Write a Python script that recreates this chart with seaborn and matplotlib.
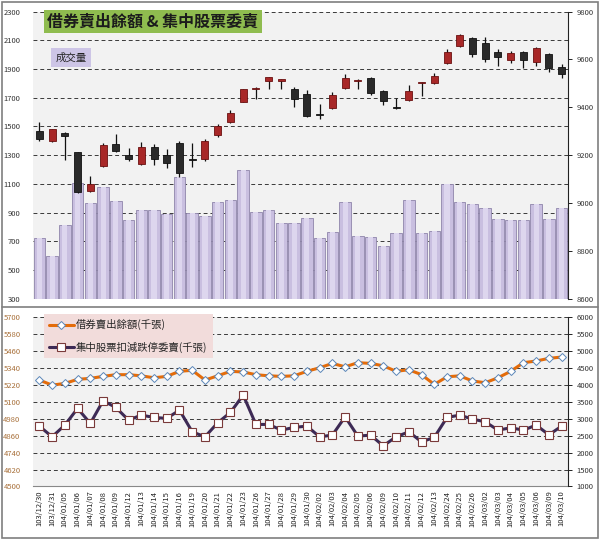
import numpy as np
import pandas as pd
import seaborn as sns
import matplotlib
matplotlib.use('Agg')
import matplotlib.pyplot as plt
from matplotlib.patches import Rectangle
from matplotlib.lines import Line2D

# trading days (ROC calendar)
dates = ['103/12/30', '103/12/31', '104/01/05', '104/01/06', '104/01/07', '104/01/08',
         '104/01/09', '104/01/12', '104/01/13', '104/01/14', '104/01/15', '104/01/16',
         '104/01/19', '104/01/20', '104/01/21', '104/01/22', '104/01/23', '104/01/26',
         '104/01/27', '104/01/28', '104/01/29', '104/01/30', '104/02/02', '104/02/03',
         '104/02/04', '104/02/05', '104/02/06', '104/02/09', '104/02/10', '104/02/11',
         '104/02/12', '104/02/13', '104/02/24', '104/02/25', '104/02/26', '104/03/02',
         '104/03/03', '104/03/04', '104/03/05', '104/03/06', '104/03/09', '104/03/10']

# 成交量 (left axis, top chart)
volume = [720, 600, 810, 1105, 970, 1080, 980, 845, 920, 920, 890, 1150, 900, 875,
          975, 990, 1200, 905, 915, 825, 830, 865, 720, 765, 975, 740, 730, 665,
          760, 985, 760, 770, 1100, 975, 960, 930, 855, 845, 845, 960, 855, 930]

# index candles (right axis, top chart)
open_ = [9301, 9259, 9293, 9212, 9049, 9155, 9248, 9201, 9163, 9236, 9199, 9250, 9184, 9184,
         9283, 9338, 9424, 9478, 9511, 9509, 9478, 9456, 9371, 9396, 9482, 9512, 9521, 9467,
         9402, 9431, 9501, 9501, 9584, 9658, 9689, 9668, 9630, 9598, 9630, 9591, 9623, 9567]
high = [9340, 9311, 9297, 9214, 9113, 9250, 9289, 9231, 9256, 9246, 9224, 9259, 9250, 9266,
        9329, 9389, 9478, 9483, 9528, 9520, 9484, 9473, 9414, 9466, 9538, 9517, 9526, 9473,
        9438, 9492, 9506, 9545, 9643, 9706, 9693, 9695, 9645, 9637, 9636, 9651, 9626, 9581]
low = [9261, 9254, 9180, 9043, 9046, 9152, 9213, 9177, 9159, 9159, 9148, 9108, 9152, 9177,
       9275, 9333, 9421, 9436, 9475, 9475, 9403, 9361, 9351, 9392, 9477, 9475, 9450, 9410,
       9392, 9428, 9448, 9498, 9580, 9654, 9612, 9590, 9574, 9584, 9563, 9574, 9549, 9521]
close = [9268, 9308, 9281, 9047, 9080, 9243, 9218, 9183, 9236, 9183, 9168, 9124, 9179, 9259,
         9323, 9375, 9475, 9481, 9526, 9517, 9434, 9365, 9368, 9452, 9521, 9515, 9459, 9427,
         9397, 9469, 9504, 9531, 9633, 9703, 9622, 9602, 9609, 9626, 9598, 9648, 9563, 9539]

# 借券賣出餘額 (left axis, bottom chart)
short_bal = [5255, 5219, 5231, 5260, 5267, 5281, 5293, 5293, 5285, 5271, 5281, 5317, 5324, 5255,
             5285, 5317, 5312, 5293, 5285, 5281, 5285, 5317, 5342, 5373, 5349, 5378, 5373, 5356,
             5317, 5328, 5293, 5224, 5278, 5285, 5248, 5236, 5271, 5317, 5378, 5390, 5409, 5418]

# 集中股票扣減跌停委賣 (right axis, bottom chart)
sell_orders = [2784, 2468, 2814, 3308, 2864, 3533, 3337, 2962, 3109, 3041, 3012, 3257, 2615, 2468,
               2882, 3189, 3701, 2834, 2834, 2666, 2746, 2784, 2468, 2518, 3059, 2488, 2518, 2201,
               2468, 2615, 2320, 2450, 3041, 3109, 2991, 2912, 2666, 2734, 2666, 2814, 2527, 2784]

sns.set_theme(style='white')
plt.rcParams['font.family'] = ['Noto Sans CJK TC', 'DejaVu Sans']

pos = np.arange(len(dates))
grid_kw = dict(color='#3a3a3a', linestyle=(0, (4, 3)), linewidth=0.7)
tick_fs = 5.5

fig = plt.figure(figsize=(6, 5.4), dpi=100)

# ---------------- top chart ----------------
ax1 = fig.add_axes([0.055, 0.4469, 0.8917, 0.5315])
ax1.set_facecolor('#f2f2f2')
sns.barplot(x=pos, y=volume, ax=ax1, color='#c9bfe0', saturation=1,
            edgecolor='#8f85ab', linewidth=0.6, width=0.9, native_scale=True)
# lighter middle strip for the cylinder look
sns.barplot(x=pos, y=volume, ax=ax1, color='#ddd6ee', saturation=1,
            linewidth=0, width=0.4, native_scale=True)
ax1.set_ylim(300, 2300)
ax1.set_yticks(range(300, 2301, 200))
ax1.set_xlim(-0.5, len(dates) - 0.5)
ax1.set_axisbelow(True)
ax1.yaxis.grid(True, **grid_kw)
ax1.xaxis.grid(False)
ax1.set_xticks([])
ax1.set_xlabel('')
ax1.tick_params(axis='y', labelsize=tick_fs, length=0, pad=9, labelcolor='#333333')
for s in ['top', 'bottom', 'left', 'right']:
    ax1.spines[s].set_visible(False)

ax2 = ax1.twinx()
for i in range(len(dates)):
    up = close[i] >= open_[i]
    col = '#a82828' if up else '#2a2a2a'
    ecol = '#6a1010' if up else '#111111'
    ax2.vlines(pos[i], low[i], high[i], color='#111111', linewidth=0.9, zorder=2)
    body = max(abs(close[i] - open_[i]), 2)
    ax2.bar(pos[i], body, bottom=min(open_[i], close[i]), width=0.55,
            color=col, edgecolor=ecol, linewidth=0.6, zorder=3)
ax2.set_ylim(8600, 9800)
ax2.set_yticks(range(8600, 9801, 200))
ax2.tick_params(axis='y', labelsize=tick_fs, length=3, width=0.7, pad=3,
                color='#222222', labelcolor='#333333', direction='out')
ax2.grid(False)
for s in ['top', 'bottom', 'left']:
    ax2.spines[s].set_visible(False)
ax2.spines['right'].set_color('#222222')
ax2.spines['right'].set_linewidth(0.8)

ax1.text(0.027, 0.966, '借券賣出餘額 & 集中股票委賣', transform=ax1.transAxes,
         ha='left', va='center', fontsize=11.5, fontweight='bold', color='#1c1c1c',
         bbox=dict(boxstyle='square,pad=0.22', fc='#8fbc4f', ec='none'), zorder=5)
ax1.text(0.042, 0.84, '成交量', transform=ax1.transAxes, ha='left', va='center',
         fontsize=7.5, color='#222222',
         bbox=dict(boxstyle='square,pad=0.45', fc='#cdc5e6', ec='none'), zorder=5)

# ---------------- bottom chart ----------------
ax3 = fig.add_axes([0.055, 0.0991, 0.8917, 0.3133])
ax3.set_facecolor('#f2f2f2')
sns.lineplot(x=pos, y=short_bal, ax=ax3, color='#e46c0a', linewidth=2.2,
             marker='D', markersize=4.5, markerfacecolor='white',
             markeredgecolor='#5b86b8', markeredgewidth=0.7, zorder=3)
ax3.set_ylim(4500, 5700)
ax3.set_yticks(range(4500, 5701, 120))
ax3.set_xlim(-0.5, len(dates) - 0.5)
ax3.set_axisbelow(True)
ax3.yaxis.grid(True, **grid_kw)
ax3.xaxis.grid(False)
ax3.set_xticks(pos)
ax3.set_xticklabels(dates, rotation=90, fontsize=tick_fs, color='#222222')
ax3.tick_params(axis='x', length=0, pad=3)
ax3.tick_params(axis='y', labelsize=tick_fs, length=0, pad=9, labelcolor='#a8703a')
for s in ['top', 'left', 'right']:
    ax3.spines[s].set_visible(False)
ax3.spines['bottom'].set_color('#888888')
ax3.spines['bottom'].set_linewidth(0.8)

ax4 = ax3.twinx()
sns.lineplot(x=pos, y=sell_orders, ax=ax4, color='#3d2a55', linewidth=2.2,
             marker='s', markersize=6, markerfacecolor='white',
             markeredgecolor='#7a3a3a', markeredgewidth=0.8, zorder=3)
ax4.set_ylim(1000, 6000)
ax4.set_yticks(range(1000, 6001, 500))
ax4.tick_params(axis='y', labelsize=tick_fs, length=3, width=0.7, pad=3,
                color='#222222', labelcolor='#333333', direction='out')
ax4.grid(False)
for s in ['top', 'bottom', 'left']:
    ax4.spines[s].set_visible(False)
ax4.spines['right'].set_color('#222222')
ax4.spines['right'].set_linewidth(0.8)

handles = [
    Line2D([], [], color='#e46c0a', linewidth=2.2, marker='D', markersize=4.5,
           markerfacecolor='white', markeredgecolor='#5b86b8', markeredgewidth=0.7),
    Line2D([], [], color='#3d2a55', linewidth=2.2, marker='s', markersize=6,
           markerfacecolor='white', markeredgecolor='#7a3a3a', markeredgewidth=0.8),
]
leg = ax4.legend(handles, ['借券賣出餘額(千張)', '集中股票扣減跌停委賣(千張)'],
                 loc='upper left', bbox_to_anchor=(0.02, 1.02), fontsize=7.5,
                 frameon=True, fancybox=False, facecolor='#f2dcdb', edgecolor='none',
                 framealpha=1, labelspacing=1.1, handlelength=2.4, handletextpad=0.2,
                 borderpad=0.5, borderaxespad=0)
leg.set_zorder(10)

# frame around the whole picture and the divider between the two charts
fig.add_artist(Rectangle((0.004, 0.004), 0.992, 0.992, transform=fig.transFigure,
                         fill=False, edgecolor='#7f7f7f', linewidth=1.2))
fig.add_artist(Line2D([0.004, 0.996], [0.4315, 0.4315], transform=fig.transFigure,
                      color='#7f7f7f', linewidth=1.2))

fig.savefig('out.png', dpi=100)
